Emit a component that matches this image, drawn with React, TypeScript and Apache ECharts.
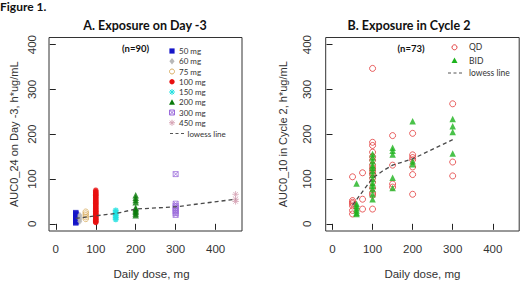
import React, { useEffect, useRef } from 'react';
import * as echarts from 'echarts';

// ---- axis ticks ----
const doseTicks = [0, 100, 200, 300, 400];
const aucTicks = [0, 100, 200, 300, 400];

// ---- Panel A: AUC0_24 on Day -3 by daily dose ----
const day3Dose50 = [2, 4, 5, 7, 9, 10, 12, 14, 15, 17, 19, 21, 23, 25];
const day3Dose60 = [5, 9, 13, 17, 20];
const day3Dose75 = [11, 15, 19, 23, 27];
const day3Dose100 = [3, 4, 6, 8, 10, 11, 13, 15, 16, 18, 20, 21, 23, 25, 27, 28, 30, 32, 34, 36, 38, 40, 42, 44, 46, 48, 50, 52, 54, 56, 58, 60, 62, 64, 66, 68, 70, 72, 75];
const day3Dose150 = [10, 14, 18, 22, 26, 30];
const day3Dose200 = [19, 23, 27, 30, 33, 36, 48, 53, 58, 64];
const day3Dose300 = [20, 24, 28, 32, 36, 40, 45, 111];
const day3Dose450 = [50, 55, 66];
const day3LowessDose = [50, 75, 100, 150, 200, 300, 450];
const day3LowessAuc = [12, 15, 18, 23, 33, 38, 55];

// ---- Panel B: AUC0_10 in Cycle 2 ----
const qdDose = [50, 50, 50, 50, 50, 50, 50, 75, 75, 75,
  100, 100, 100, 100, 100, 100, 100, 100, 100, 100, 100, 100, 100, 100, 100, 100, 100,
  150, 150, 150, 150, 200, 200, 200, 200, 200, 200, 200, 300, 300, 300];
const qdAuc = [105, 52, 48, 45, 40, 30, 22, 114, 55, 33,
  347, 182, 175, 160, 150, 142, 131, 125, 120, 114, 110, 102, 93, 80, 69, 64, 33,
  197, 131, 89, 82, 202, 154, 148, 143, 127, 110, 66, 268, 138, 107];
const bidDose = [60, 60, 60, 60, 60, 60, 60,
  100, 100, 100, 100, 100, 100, 100, 100, 100, 100, 100, 100, 100,
  150, 150, 150, 150, 150, 200, 200, 200, 300, 300, 300, 300];
const bidAuc = [90, 45, 40, 35, 30, 25, 22,
  156, 148, 140, 130, 125, 118, 109, 100, 91, 85, 78, 66, 55,
  170, 163, 155, 103, 80, 229, 140, 133, 234, 218, 205, 157];
const c2LowessDose = [50, 75, 100, 125, 150, 200, 300];
const c2LowessAuc = [42, 72, 102, 118, 131, 145, 188];

const FONT_AX = 'Liberation Sans';
const FONT_CAL = 'Lato';

const SYM_BOXX = 'path://M0,0L10,0L10,10L0,10Z M0,0L10,10 M10,0L0,10';
const SYM_AST = 'path://M5,0L5,10 M0,5L10,5 M1.5,1.5L8.5,8.5 M8.5,1.5L1.5,8.5';

const pairs = (dose: number, vals: number[]) => vals.map((v) => [dose, v]);
const zip = (xs: number[], ys: number[]) => xs.map((x, i) => [x, ys[i]]);

const GRID_TOP = 37.5;
const GRID_H = 196.5;

function xAxisFor(i: number, namePad: number[]) {
  return {
    type: 'value', gridIndex: i, min: -17, max: 466,
    splitLine: { show: false },
    axisLine: { show: false },
    axisTick: { show: true, length: 6, lineStyle: { color: '#222' }, customValues: doseTicks },
    axisLabel: { margin: 12, fontSize: 11.5, color: '#333', fontFamily: FONT_AX, customValues: doseTicks },
    name: 'Daily dose, mg', nameLocation: 'middle', nameGap: 37,
    nameTextStyle: { fontSize: 11.5, color: '#333', fontFamily: FONT_AX, padding: namePad },
  };
}
function yAxisFor(i: number, name: string, margin: number, gap: number) {
  return {
    type: 'value', gridIndex: i, min: -16, max: 416,
    splitLine: { show: false },
    axisLine: { show: false },
    axisTick: { show: true, length: 6, lineStyle: { color: '#222' }, customValues: aucTicks },
    axisLabel: { rotate: 90, margin, fontSize: 11.5, color: '#333', fontFamily: FONT_AX, customValues: aucTicks },
    name, nameLocation: 'middle', nameGap: gap,
    nameTextStyle: { fontSize: 11, color: '#333', fontFamily: FONT_AX },
  };
}

function scatter(i: number, data: number[][], symbol: string, size: any, itemStyle: any) {
  return { type: 'scatter', xAxisIndex: i, yAxisIndex: i, data, symbol, symbolSize: size, itemStyle, silent: true };
}
function lowess(i: number, data: number[][]) {
  return {
    type: 'line', xAxisIndex: i, yAxisIndex: i, data, symbol: 'none', smooth: false, z: 5,
    lineStyle: { color: '#4a4a4a', width: 1.3, type: [4, 3] },
  };
}

// legend marker builders (graphic)
function marker(kind: string, cx: number, cy: number, color: string): any {
  const s = 2.6;
  switch (kind) {
    case 'square':
      return { type: 'rect', shape: { x: cx - s, y: cy - s, width: 2 * s, height: 2 * s }, style: { fill: color } };
    case 'diamond':
      return { type: 'polygon', shape: { points: [[cx, cy - 3.2], [cx + 2.6, cy], [cx, cy + 3.2], [cx - 2.6, cy]] }, style: { fill: color } };
    case 'openCircle':
      return { type: 'circle', shape: { cx, cy, r: 2.5 }, style: { fill: 'none', stroke: color, lineWidth: 1 } };
    case 'circle':
      return { type: 'circle', shape: { cx, cy, r: 2.7 }, style: { fill: color } };
    case 'triangle':
      return { type: 'polygon', shape: { points: [[cx, cy - 3], [cx + 3, cy + 2.6], [cx - 3, cy + 2.6]] }, style: { fill: color } };
    case 'asterisk':
      return {
        type: 'group', children: [
          { type: 'line', shape: { x1: cx, y1: cy - 3, x2: cx, y2: cy + 3 }, style: { stroke: color, lineWidth: 1 } },
          { type: 'line', shape: { x1: cx - 3, y1: cy, x2: cx + 3, y2: cy }, style: { stroke: color, lineWidth: 1 } },
          { type: 'line', shape: { x1: cx - 2.1, y1: cy - 2.1, x2: cx + 2.1, y2: cy + 2.1 }, style: { stroke: color, lineWidth: 1 } },
          { type: 'line', shape: { x1: cx + 2.1, y1: cy - 2.1, x2: cx - 2.1, y2: cy + 2.1 }, style: { stroke: color, lineWidth: 1 } },
        ],
      };
    case 'boxx':
      return {
        type: 'group', children: [
          { type: 'rect', shape: { x: cx - 2.5, y: cy - 2.5, width: 5, height: 5 }, style: { fill: 'none', stroke: color, lineWidth: 1 } },
          { type: 'line', shape: { x1: cx - 2.5, y1: cy - 2.5, x2: cx + 2.5, y2: cy + 2.5 }, style: { stroke: color, lineWidth: 1 } },
          { type: 'line', shape: { x1: cx + 2.5, y1: cy - 2.5, x2: cx - 2.5, y2: cy + 2.5 }, style: { stroke: color, lineWidth: 1 } },
        ],
      };
    default:
      return { type: 'group', children: [] };
  }
}
function txt(text: string, x: number, y: number, size: number, opts: any = {}): any {
  return {
    type: 'text', x, y,
    style: {
      text, fontSize: size, fontFamily: opts.family || FONT_CAL, fontWeight: opts.bold ? 'bold' : 'normal',
      fill: opts.color || '#222', align: opts.align || 'left', verticalAlign: 'middle',
    },
  };
}
function dashLine(x1: number, x2: number, y: number): any {
  return { type: 'line', shape: { x1, y1: y, x2, y2: y }, style: { stroke: '#555', lineWidth: 1, lineDash: [3, 2.5] } };
}

const C = {
  d50: '#1515C8', d60: '#B8B8B8', d75: '#D9AE62', d100: '#E81010', d150: '#20E0E0',
  d200: '#0A7A0A', d300: '#9B6BDB', d450: '#D6A2B4', qd: '#E23A3A', bid: '#1DB31D',
};

const legendA = [
  { label: '50 mg', kind: 'square', color: C.d50 },
  { label: '60 mg', kind: 'diamond', color: C.d60 },
  { label: '75 mg', kind: 'openCircle', color: C.d75 },
  { label: '100 mg', kind: 'circle', color: C.d100 },
  { label: '150 mg', kind: 'asterisk', color: C.d150 },
  { label: '200 mg', kind: 'triangle', color: C.d200 },
  { label: '300 mg', kind: 'boxx', color: C.d300 },
  { label: '450 mg', kind: 'asterisk', color: C.d450 },
];

function buildGraphics() {
  const g: any[] = [];
  g.push(txt('Figure 1.', 0, 6.5, 12, { bold: true, color: '#111' }));
  g.push(txt('A. Exposure on Day -3', 145, 25, 12.5, { bold: true, align: 'center', color: '#111' }));
  g.push(txt('B. Exposure in Cycle 2', 409, 25, 12.5, { bold: true, align: 'center', color: '#111' }));
  g.push(txt('(n=90)', 135.5, 48, 9.5, { bold: true, align: 'center', color: '#111' }));
  g.push(txt('(n=73)', 411, 48, 9.5, { bold: true, align: 'center', color: '#111' }));
  legendA.forEach((it, k) => {
    const y = 51 + k * 10.25;
    g.push(marker(it.kind, 172, y, it.color));
    g.push(txt(it.label, 179, y, 8, { color: '#333' }));
  });
  g.push(dashLine(170, 185, 133.5));
  g.push(txt('lowess line', 187.5, 133.5, 8, { color: '#333' }));
  g.push(marker('openCircle', 454.5, 47.3, C.qd));
  g.push(txt('QD', 469, 47.3, 8.5, { color: '#333' }));
  g.push(marker('triangle', 454.5, 60.5, C.bid));
  g.push(txt('BID', 469, 60.5, 8.5, { color: '#333' }));
  g.push(dashLine(448, 463, 73));
  g.push(txt('lowess line', 469, 73, 8.5, { color: '#333' }));
  return g;
}

const option: any = {
  animation: false,
  backgroundColor: '#fff',
  grid: [
    { left: 49, top: GRID_TOP, width: 193, height: GRID_H, show: true, borderColor: '#333', borderWidth: 1, backgroundColor: 'transparent' },
    { left: 325.7, top: GRID_TOP, width: 193.5, height: GRID_H, show: true, borderColor: '#333', borderWidth: 1, backgroundColor: 'transparent' },
  ],
  xAxis: [xAxisFor(0, [0, 0, 0, 12]), xAxisFor(1, [0, 0, 0, 0])],
  yAxis: [
    yAxisFor(0, 'AUC0_24 on Day -3, h*ug/mL', 11, 30),
    yAxisFor(1, 'AUC0_10 in Cycle 2, h*ug/mL', 13, 37),
  ],
  series: [
    scatter(0, pairs(50, day3Dose50), 'rect', 5.5, { color: C.d50 }),
    scatter(0, pairs(60, day3Dose60), 'diamond', [5, 6.5], { color: C.d60 }),
    scatter(0, pairs(75, day3Dose75), 'circle', 5.5, { color: 'rgba(0,0,0,0)', borderColor: C.d75, borderWidth: 1 }),
    scatter(0, pairs(100, day3Dose100), 'circle', 5.5, { color: C.d100 }),
    scatter(0, pairs(150, day3Dose150), SYM_AST, 6, { color: 'rgba(0,0,0,0)', borderColor: C.d150, borderWidth: 1.6 }),
    scatter(0, pairs(200, day3Dose200), 'triangle', 6.5, { color: C.d200 }),
    scatter(0, pairs(300, day3Dose300), SYM_BOXX, 5, { color: 'rgba(0,0,0,0)', borderColor: C.d300, borderWidth: 1 }),
    scatter(0, pairs(450, day3Dose450), SYM_AST, 6.5, { color: 'rgba(0,0,0,0)', borderColor: C.d450, borderWidth: 1 }),
    lowess(0, zip(day3LowessDose, day3LowessAuc)),
    scatter(1, zip(qdDose, qdAuc), 'circle', 6, { color: 'rgba(0,0,0,0)', borderColor: C.qd, borderWidth: 1 }),
    scatter(1, zip(bidDose, bidAuc), 'triangle', 6.5, { color: C.bid }),
    lowess(1, zip(c2LowessDose, c2LowessAuc)),
  ],
  graphic: buildGraphics(),
};

export default function App() {
  const ref = useRef<HTMLDivElement>(null);
  useEffect(() => {
    const chart = echarts.init(ref.current as HTMLDivElement, null, { renderer: 'svg' });
    chart.setOption(option);
    return () => chart.dispose();
  }, []);
  return <div ref={ref} style={{ position: 'absolute', left: 0, top: 0, width: 520, height: 285 }} />;
}
